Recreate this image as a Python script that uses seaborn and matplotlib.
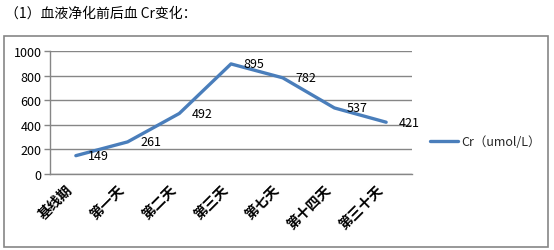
import matplotlib
matplotlib.use("Agg")
import matplotlib.pyplot as plt
import matplotlib.patches as mpatches
import seaborn as sns
import pandas as pd

categories = ["基线期", "第一天", "第二天", "第三天", "第七天", "第十四天", "第三十天"]
cr_values = [149, 261, 492, 895, 782, 537, 421]
series_name = "Cr（umol/L）"
title_text = "（1）血液净化前后血 Cr变化："
y_ticks = [0, 200, 400, 600, 800, 1000]

sns.set_theme(style="white")
plt.rcParams['font.family'] = ['Noto Sans CJK SC', 'DejaVu Sans']

W, H = 554, 251
fig = plt.figure(figsize=(W / 100, H / 100), dpi=100)
ax = fig.add_axes([50 / W, 1 - 175 / H, (412 - 50) / W, (175 - 52) / H])

df = pd.DataFrame({"cat": categories, "val": cr_values, "series": series_name})
line_color = "#4A7EBB"
sns.lineplot(data=df, x="cat", y="val", hue="series", palette=[line_color],
             sort=False, linewidth=2.4, ax=ax, legend=False)

ax.set_xlim(-0.5, len(categories) - 0.5)
ax.set_ylim(0, 1000)
ax.set_yticks(y_ticks)
ax.set_yticklabels([str(v) for v in y_ticks], fontsize=9, color="#000000")
ax.set_xticks(range(len(categories)))
ax.set_xticklabels(categories, rotation=45, ha="right", fontsize=10,
                   fontweight="bold", color="#000000")
ax.set_xticks([i - 0.5 for i in range(len(categories) + 1)], minor=True)
ax.tick_params(axis="x", which="major", length=0, pad=6)
ax.tick_params(axis="x", which="minor", length=4, color="#868686", width=1, direction="out")
ax.tick_params(axis="y", which="major", length=4, color="#868686", width=1, direction="out", pad=2, left=True)
ax.set_xlabel("")
ax.set_ylabel("")
ax.grid(axis="y", color="#868686", linewidth=1)
ax.set_axisbelow(True)
for s in ["top", "right"]:
    ax.spines[s].set_visible(False)
for s in ["left", "bottom"]:
    ax.spines[s].set_color("#868686")
    ax.spines[s].set_linewidth(1)

for i, v in enumerate(cr_values):
    ax.annotate(str(v), (i, v), xytext=(9, 0), textcoords="offset points",
                ha="left", va="center", fontsize=9, color="#000000")

handle = plt.Line2D([], [], color=line_color, linewidth=2.4)
ax.legend([handle], [series_name], loc="center left",
          bbox_to_anchor=(430 / W, 1 - 143 / H), bbox_transform=fig.transFigure,
          frameon=False, fontsize=9, handlelength=2.2, handletextpad=0.3,
          borderpad=0, borderaxespad=0)

fig.text(5 / W, 1 - 14 / H, title_text, fontsize=10, ha="left", va="center", color="#000000")

rect = mpatches.Rectangle((4 / W, 3 / H), (548 - 4) / W, (248 - 37) / H,
                          transform=fig.transFigure, fill=False,
                          edgecolor="#868686", linewidth=1.2)
fig.patches.append(rect)

fig.savefig("out.png", dpi=100)
